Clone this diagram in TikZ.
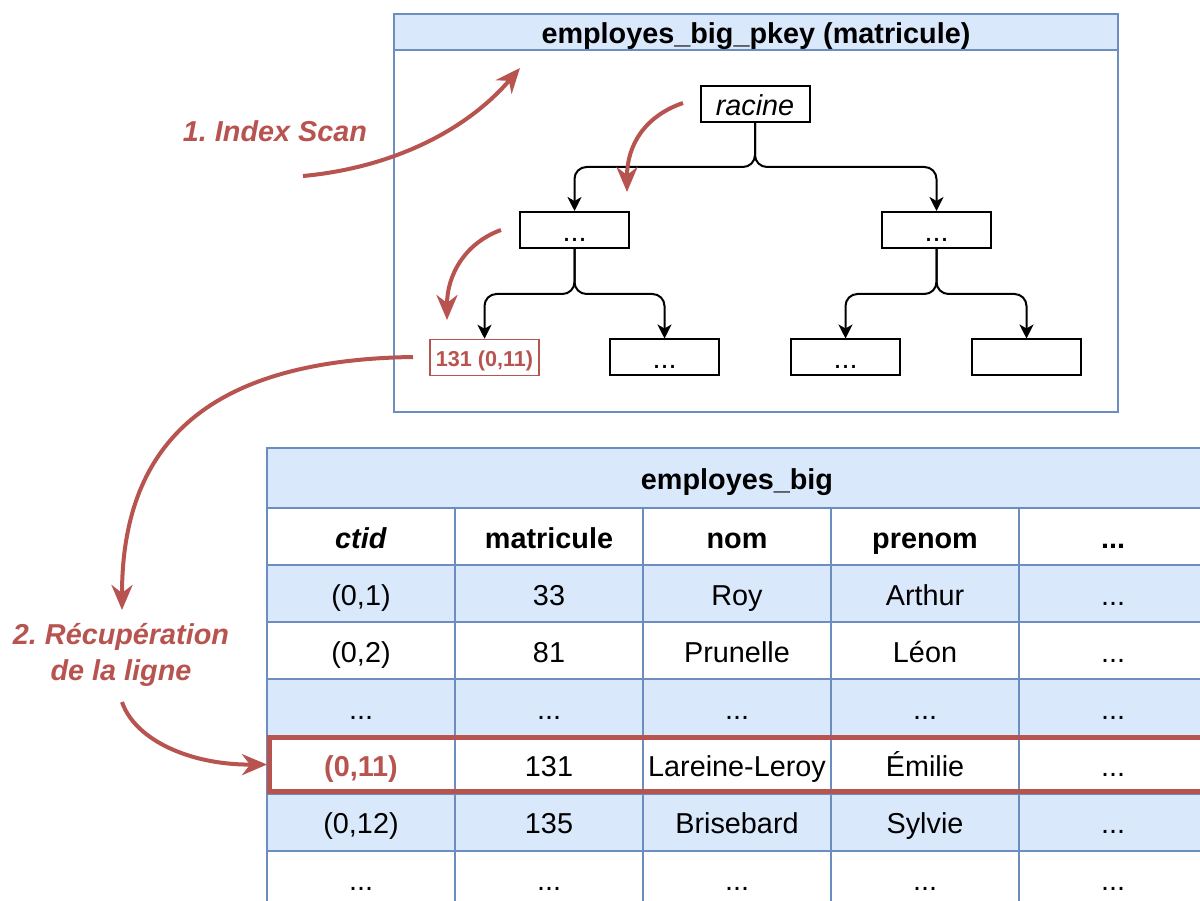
\documentclass[tikz,border=0pt]{standalone}
\usepackage{fontspec}
\setmainfont{Liberation Sans}
\usetikzlibrary{arrows.meta}
\definecolor{bfill}{HTML}{DAE8FC}
\definecolor{bline}{HTML}{6C8EBF}
\definecolor{redc}{HTML}{B85450}
\newcommand\szA{\fontsize{28.8}{36}\selectfont}
\newcommand\szB{\fontsize{21.6}{26}\selectfont}
\newcommand\trow[8]{%
  \node[cell, fill=#3] (#1-1) at (361,#2) {#4};
  \node[cell, fill=#3] (#1-2) at (549,#2) {#5};
  \node[cell, fill=#3] (#1-3) at (737,#2) {#6};
  \node[cell, fill=#3] (#1-4) at (925,#2) {#7};
  \node[cell, fill=#3] (#1-5) at (1113,#2) {#8};}
\frenchspacing
\begin{document}
\begin{tikzpicture}[x=1pt,y=-1pt,
  even/.style={text height=28pt, text depth=5pt},
  treebox/.style={draw=black, line width=2pt, minimum width=109pt, minimum height=36pt, inner sep=0pt, font=\szA, even},
  treeedge/.style={draw=black, line width=2pt, rounded corners=12pt, -{Stealth[length=14pt,width=14pt,inset=4pt]}},
  redarrow/.style={draw=redc, line width=4pt, -{Stealth[length=25pt,width=21pt,inset=8pt]}},
  cell/.style={draw=bline, line width=2pt, minimum width=188pt, minimum height=57.14pt, inner sep=0pt, font=\szA, even},
  lbl/.style={text=redc, font=\szA\bfseries\itshape, align=center},
]
\useasboundingbox (0,0) rectangle (1200,901);
\clip (0,0) rectangle (1200,901);
\fill[white] (0,0) rectangle (1200,901);

% ---------- index box ----------
\node[draw=bline, line width=2pt, minimum width=724pt, minimum height=398pt, anchor=north west, inner sep=0pt] (idx) at (393,13) {};
\node[draw=bline, fill=bfill, line width=2pt, minimum width=724pt, minimum height=36pt, anchor=north west, inner sep=0pt, font=\szA\bfseries, even] (idxhead) at (393,13) {employes\_big\_pkey (matricule)};

\node[treebox, font=\szA\itshape] (root) at (755,104) {racine};
\node[treebox] (l2a) at (574.5,230) {...};
\node[treebox] (l2b) at (936.5,230) {...};
\node[draw=redc, line width=1.5pt, minimum width=109pt, minimum height=36pt, inner sep=0pt, text=redc, font=\szB\bfseries, text height=22pt, text depth=4pt] (l3a) at (484.5,357.5) {131 (0,11)};
\node[treebox] (l3b) at (664.5,357.5) {...};
\node[treebox] (l3c) at (845.5,357.5) {...};
\node[treebox] (l3d) at (1026.5,357.5) {};

\coordinate (j1) at (755,167);
\coordinate (j2) at (574.5,294);
\coordinate (j3) at (936.5,294);
\draw[treeedge] (root.south) -- (j1) -| (l2a.north);
\draw[treeedge] (root.south) -- (j1) -| (l2b.north);
\draw[treeedge] (l2a.south) -- (j2) -| (l3a.north);
\draw[treeedge] (l2a.south) -- (j2) -| (l3b.north);
\draw[treeedge] (l2b.south) -- (j3) -| (l3c.north);
\draw[treeedge] (l2b.south) -- (j3) -| (l3d.north);

% ---------- table ----------
\node[cell, fill=bfill, minimum width=940pt, minimum height=60pt, font=\szA\bfseries] (thead) at (737,478) {employes\_big};
\trow{h}{536.6}{white}{\textbf{\textit{ctid}}}{\textbf{matricule}}{\textbf{nom}}{\textbf{prenom}}{\textbf{...}}
\trow{r1}{593.7}{bfill}{(0,1)}{33}{Roy}{Arthur}{...}
\trow{r2}{650.9}{white}{(0,2)}{81}{Prunelle}{Léon}{...}
\trow{r3}{708.0}{bfill}{...}{...}{...}{...}{...}
\trow{r4}{765.1}{white}{\textcolor{redc}{\textbf{(0,11)}}}{131}{Lareine-Leroy}{Émilie}{...}
\trow{r5}{822.3}{bfill}{(0,12)}{135}{Brisebard}{Sylvie}{...}
\trow{r6}{879.4}{white}{...}{...}{...}{...}{...}

\node[draw=redc, line width=5pt, minimum width=960pt, minimum height=54pt, anchor=west, inner sep=0pt] (hl) at (267,764.5) {};

% ---------- labels & red arrows ----------
\node[lbl] (lab1) at (275,131) {1. Index Scan};
\node[lbl] (lab2) at (121,655) {2. Récupération\\de la ligne};

\coordinate (a1s) at (303,176);
\coordinate (a1e) at (520,68);
\coordinate (a2s) at (683,103);
\coordinate (a2e) at (627,192);
\coordinate (a3s) at (501,230);
\coordinate (a3e) at (447,320);
\coordinate (a4s) at (413,357);
\coordinate (a4e) at (122,610);
\coordinate (a5s) at (122,702);

\draw[redarrow] (a1s) .. controls (390,168) and (465,132) .. (a1e);
\draw[redarrow] (a2s) .. controls (645,116) and (627,145) .. (a2e);
\draw[redarrow] (a3s) .. controls (465,243) and (447,275) .. (a3e);
\draw[redarrow] (a4s) .. controls (200,360) and (122,450) .. (a4e);
\draw[redarrow] (a5s) .. controls (135,740) and (190,765) .. (hl.west);
\end{tikzpicture}
\end{document}
